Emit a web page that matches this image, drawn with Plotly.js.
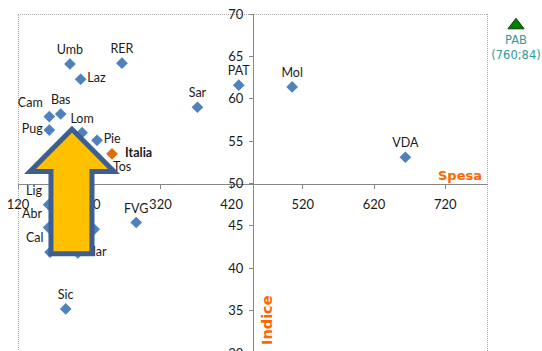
<!DOCTYPE html>
<html>
<head>
<meta charset="utf-8">
<script src="https://cdn.plot.ly/plotly-3.0.1.min.js"></script>
<style>html,body{margin:0;padding:0;background:#fff;overflow:hidden;}#chart{width:542px;height:353px;}</style>
</head>
<body>
<div id="chart"></div>
<script>
// ---- data ----
const regions = ['Umb','RER','Laz','PAT','Mol','Sar','Bas','Cam','Pug','Lom','Pie','Tos','VDA','Lig','Abr','Cal','Ven','Mar','FVG','Sic'];
const spesa   = [193, 266, 208, 430, 505, 372, 180, 164, 164, 210, 231, 244, 664, 163, 163, 165, 227, 204, 286, 187];
const indice  = [64.1,64.2,62.3,61.6,61.4,59.0,58.2,57.9,56.3,56.0,55.1,51.8,53.1,47.5,44.8,41.9,44.6,41.8,45.4,35.2];

const italiaName = ['Italia'];
const italiaSpesa = [252];
const italiaIndice = [53.5];

const pabName = ['PAB'];
const pabSpesa = [760];
const pabIndice = [84];

const xTicks = [120, 220, 320, 420, 520, 620, 720];
const yTicks = [30, 35, 40, 45, 50, 55, 60, 65, 70];

// ---- styling ----
const labelPos = ['top center','top center','middle right','top center','top center','top center','top center','top left','middle left','top center','middle right','middle right','top center','top left','top left','top left','middle left','middle right','top center','top center'];

const axisColor = '#868686';
const txtColor = '#1a1a1a';
const labelFont = {family:'Lato, sans-serif', size:12.5, color:txtColor};
const tickFont = {family:'Lato, sans-serif', size:13, color:txtColor};

const traces = [
  {
    type:'scatter', mode:'markers+text',
    x: spesa, y: indice, text: regions,
    textposition: labelPos, textfont: labelFont,
    marker:{symbol:'diamond', size:9, color:'#4F81BD', line:{width:0}},
    cliponaxis:false, hoverinfo:'none', showlegend:false
  },
  {
    type:'scatter', mode:'markers+text',
    x: italiaSpesa, y: italiaIndice,
    text: italiaName.map(t => '\u00a0\u00a0<b>' + t + '</b>'),
    textposition:'middle right',
    textfont:{family:'Lato, sans-serif', size:12.5, color:txtColor},
    marker:{symbol:'diamond', size:9, color:'#E46C0A', line:{width:0}},
    cliponaxis:false, hoverinfo:'none', showlegend:false
  },
  {
    type:'scatter', mode:'markers+text',
    x: pabSpesa, y: pabIndice, xaxis:'x2', yaxis:'y2',
    text: pabName.map((n,i) => n + '<br>(' + pabSpesa[i] + ';' + pabIndice[i] + ')'),
    textposition:'bottom center',
    textfont:{family:'DejaVu Sans, sans-serif', size:11.5, color:'#2E9A9A'},
    marker:{symbol:'triangle-up', size:14, color:'#008000', line:{width:1, color:'#004000'}},
    cliponaxis:false, hoverinfo:'none', showlegend:false
  }
];

const mainDomain = [0, 0.8969];

const layout = {
  width:542, height:353,
  margin:{l:18, r:0, t:14, b:0, pad:0},
  paper_bgcolor:'#ffffff', plot_bgcolor:'rgba(0,0,0,0)',
  showlegend:false,
  xaxis:{
    domain: mainDomain, range:[120, 780], anchor:'free', position:0.5,
    tickmode:'array', tickvals:xTicks, ticktext:xTicks.map(String),
    showline:true, linecolor:axisColor, linewidth:1.5,
    ticks:'outside', ticklen:4, tickcolor:axisColor, tickwidth:1,
    ticklabelstandoff:4, ticklabeloverflow:'allow',
    showgrid:false, zeroline:false, automargin:false,
    tickfont:tickFont
  },
  yaxis:{
    domain:[0,1], range:[30, 70], anchor:'free', position:(mainDomain[0]+mainDomain[1])/2,
    tickmode:'array', tickvals:yTicks, ticktext:yTicks.map(String),
    showline:true, linecolor:axisColor, linewidth:1.5,
    ticks:'outside', ticklen:4, tickcolor:axisColor, tickwidth:1,
    ticklabelstandoff:3, ticklabeloverflow:'allow',
    showgrid:false, zeroline:false, automargin:false,
    tickfont:tickFont
  },
  xaxis2:{domain:[0.91, 1], range:[715.1, 815.1], anchor:'y2', visible:false, fixedrange:true},
  yaxis2:{domain:[0, 1], range:[0, 86.9], anchor:'x2', visible:false, fixedrange:true},
  shapes:[
    {type:'rect', xref:'x', yref:'y', x0:120, x1:780, y0:30, y1:70, layer:'below',
     line:{color:'#555555', width:1, dash:'1px,1px'}, fillcolor:'rgba(0,0,0,0)'},
    {type:'path', xref:'x', yref:'y', layer:'above',
     path:'M195.8,56.39 L136.9,51.42 L166.3,51.42 L166.3,41.72 L223.9,41.72 L223.9,51.42 L254.8,51.42 Z',
     fillcolor:'#FFC000', line:{color:'#3D5F8F', width:5}}
  ],
  annotations:[
    {xref:'x', yref:'y', x:780, y:50, xanchor:'right', yanchor:'bottom', xshift:-4, yshift:-1,
     text:'<b>Spesa</b>', showarrow:false,
     font:{family:'DejaVu Sans, sans-serif', size:13, color:'#FF6600'}},
    {xref:'x', yref:'y', x:469.7, y:33.9, textangle:-90, xanchor:'center', yanchor:'middle',
     text:'<b>Indice</b>', showarrow:false,
     font:{family:'DejaVu Sans, sans-serif', size:14.5, color:'#FF6600'}}
  ]
};

Plotly.newPlot('chart', traces, layout, {displayModeBar:false, staticPlot:true});
</script>
</body>
</html>
